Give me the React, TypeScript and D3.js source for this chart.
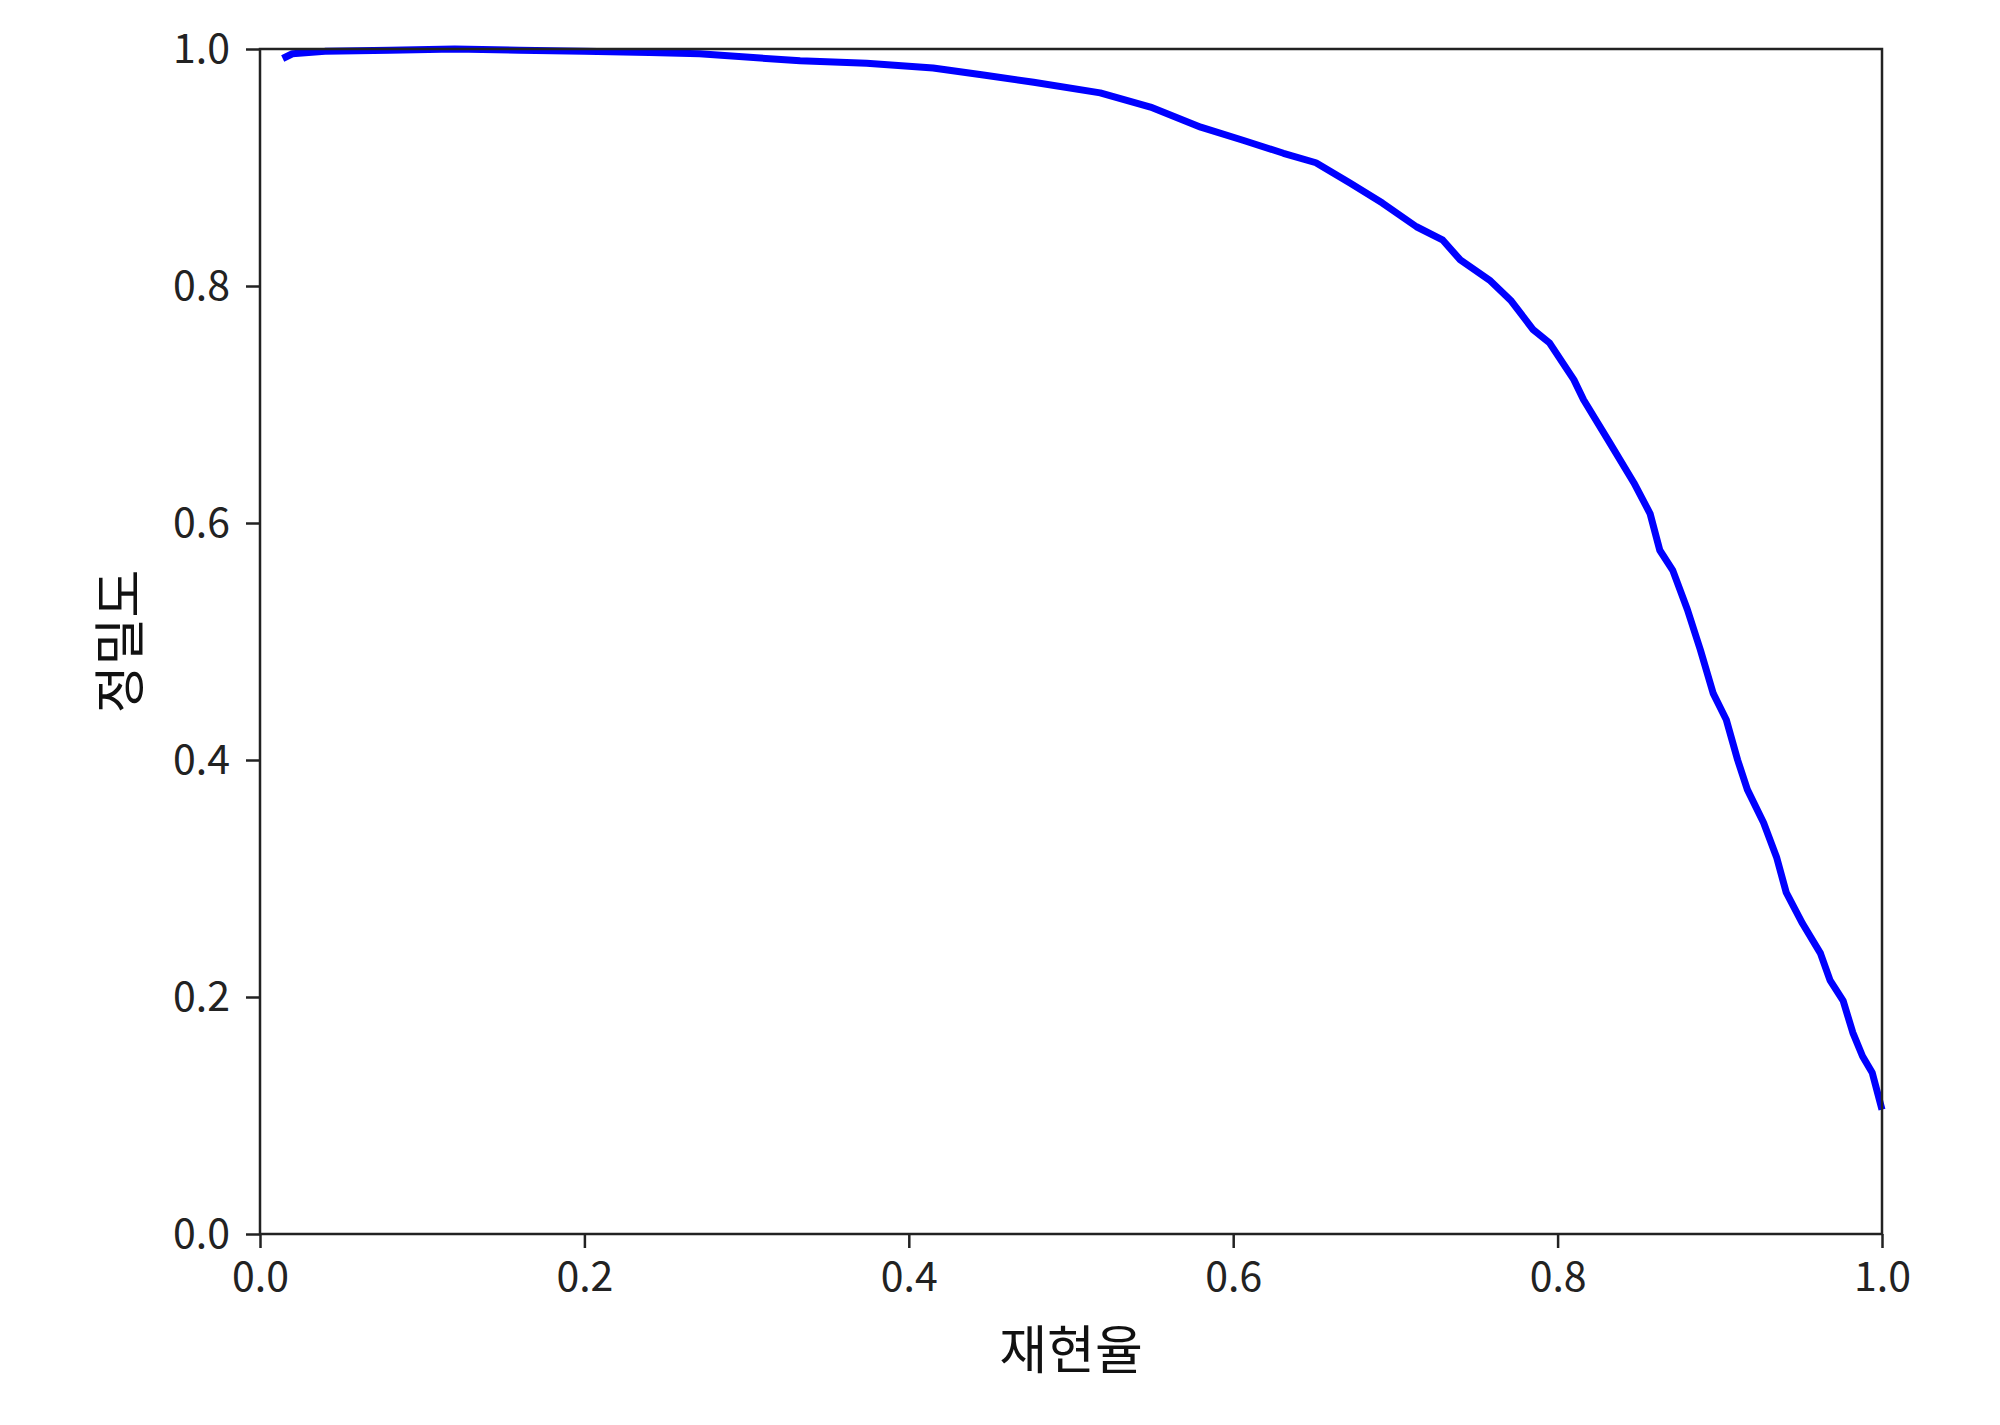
import React, { useEffect, useRef } from 'react';
import * as d3 from 'd3';

// precision-recall curve, values
const recall = [
  0.014, 0.02, 0.04, 0.08, 0.12, 0.16, 0.2, 0.24, 0.271, 0.333, 0.374, 0.415, 0.446, 0.477,
  0.518, 0.549, 0.58, 0.606, 0.631, 0.651, 0.672, 0.692, 0.713, 0.729, 0.74, 0.758, 0.771,
  0.785, 0.795, 0.81, 0.816, 0.832, 0.847, 0.857, 0.863, 0.871, 0.88, 0.888, 0.896, 0.904,
  0.911, 0.917, 0.927, 0.935, 0.941, 0.951, 0.962, 0.968, 0.976, 0.982, 0.988, 0.994, 1.0,
];
const precision = [
  0.992, 0.996, 0.998, 0.999, 1.0, 0.999, 0.998, 0.997, 0.996, 0.99, 0.988, 0.984, 0.978, 0.972,
  0.963, 0.951, 0.934, 0.923, 0.912, 0.904, 0.887, 0.87, 0.85, 0.839, 0.822, 0.805, 0.788,
  0.763, 0.752, 0.721, 0.704, 0.668, 0.634, 0.608, 0.577, 0.56, 0.527, 0.493, 0.456, 0.434,
  0.4, 0.375, 0.347, 0.318, 0.288, 0.262, 0.237, 0.214, 0.197, 0.17, 0.15, 0.136, 0.105,
];
const xTicks = [0, 0.2, 0.4, 0.6, 0.8, 1.0];
const yTicks = [0, 0.2, 0.4, 0.6, 0.8, 1.0];
const xLabel = '재현율';
const yLabel = '정밀도';

const FONT = '"Noto Sans CJK KR", "Noto Sans", sans-serif';

const App: React.FC = () => {
  const ref = useRef<SVGSVGElement | null>(null);

  useEffect(() => {
    if (!ref.current) return;
    d3.select(ref.current).selectAll('*').remove();

    const width = 2000;
    const height = 1425;
    const margin = { top: 49, right: 118, bottom: 191, left: 260 };
    const w = width - margin.left - margin.right;
    const h = height - margin.top - margin.bottom;

    const svg = d3.select(ref.current).attr('width', width).attr('height', height);
    svg.append('rect').attr('width', width).attr('height', height).attr('fill', 'white');

    const g = svg.append('g').attr('transform', `translate(${margin.left},${margin.top})`);

    const x = d3.scaleLinear().domain([0, 1]).range([0, w]);
    const y = d3.scaleLinear().domain([0, 1]).range([h, 0]);

    // curve first, spines on top
    const pts: [number, number][] = recall.map((r, i) => [r, precision[i]]);
    const line = d3
      .line<[number, number]>()
      .x((d) => x(d[0]))
      .y((d) => y(d[1]));

    g.append('path')
      .datum(pts)
      .attr('d', line)
      .attr('fill', 'none')
      .attr('stroke', '#0000ff')
      .attr('stroke-width', 7)
      .attr('stroke-linejoin', 'round')
      .attr('stroke-linecap', 'butt');

    const xAxis = d3
      .axisBottom(x)
      .tickValues(xTicks)
      .tickFormat(d3.format('.1f'))
      .tickSize(14)
      .tickPadding(14)
      .tickSizeOuter(0);
    const yAxis = d3
      .axisLeft(y)
      .tickValues(yTicks)
      .tickFormat(d3.format('.1f'))
      .tickSize(14)
      .tickPadding(16)
      .tickSizeOuter(0);

    const gx = g.append('g').attr('transform', `translate(0,${h})`).call(xAxis);
    const gy = g.append('g').call(yAxis);

    [gx, gy].forEach((a) => {
      a.select('.domain').remove();
      a.selectAll('.tick line').attr('stroke', '#222').attr('stroke-width', 2.5);
      a.selectAll('.tick text')
        .attr('fill', '#222')
        .style('font-family', FONT)
        .style('font-size', '41px');
    });

    // frame
    g.append('rect')
      .attr('x', 0)
      .attr('y', 0)
      .attr('width', w)
      .attr('height', h)
      .attr('fill', 'none')
      .attr('stroke', '#222')
      .attr('stroke-width', 2.5);

    g.append('text')
      .attr('x', w / 2)
      .attr('y', h + 112)
      .attr('text-anchor', 'middle')
      .attr('dominant-baseline', 'central')
      .attr('fill', '#111')
      .style('font-family', FONT)
      .style('font-size', '52px')
      .text(xLabel);

    g.append('text')
      .attr('transform', `translate(${116 - margin.left},${h / 2}) rotate(-90)`)
      .attr('text-anchor', 'middle')
      .attr('dominant-baseline', 'central')
      .attr('fill', '#111')
      .style('font-family', FONT)
      .style('font-size', '52px')
      .text(yLabel);
  }, []);

  return <svg ref={ref} style={{ position: 'absolute', left: 0, top: 0 }}></svg>;
};

export default App;
